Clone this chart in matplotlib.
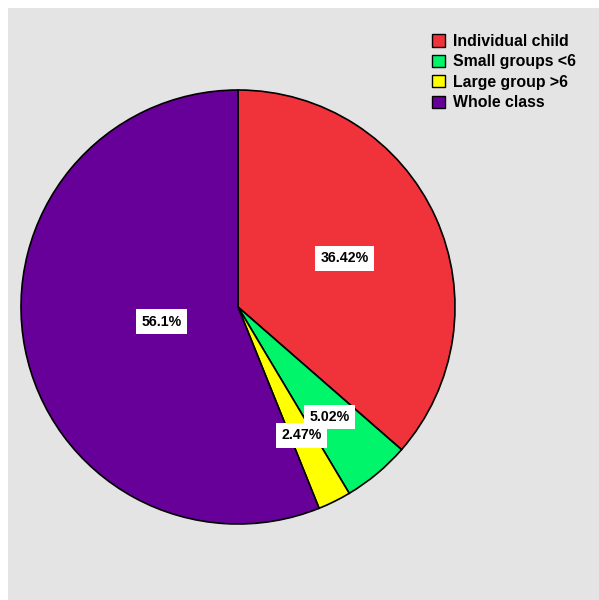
import numpy as np
import matplotlib
matplotlib.use('Agg')
import matplotlib.pyplot as plt
from matplotlib.patches import Patch

categories = ["Individual child", "Small groups <6", "Large group >6", "Whole class"]
values = [36.42, 5.02, 2.47, 56.1]
labels = ["36.42%", "5.02%", "2.47%", "56.1%"]
colors = ["#f0333a", "#00f56a", "#ffff00", "#660099"]
label_dist = [0.54, 0.66, 0.66, 0.36]

plt.rcParams['font.family'] = ['Liberation Sans', 'DejaVu Sans']

fig = plt.figure(figsize=(5.99, 6.0), dpi=100)
fig.patch.set_facecolor('white')
W, H = 599, 600
ax = fig.add_axes([8 / W, 0, 1 - 8 / W, 1 - 8 / H])
ax.set_facecolor('#e4e4e4')

cx, cy, r = 238, 307, 217
wedges, _ = ax.pie(values, colors=colors, startangle=90, counterclock=False,
                   radius=r, center=(0, 0), frame=True,
                   wedgeprops=dict(edgecolor='black', linewidth=1.2))
ax.set_xlim(8 - cx, W - cx)
ax.set_ylim(cy - H, cy - 8)
ax.set_aspect('equal')
ax.set_xticks([])
ax.set_yticks([])
for s in ax.spines.values():
    s.set_visible(False)

for w, lab, d in zip(wedges, labels, label_dist):
    ang = np.deg2rad((w.theta1 + w.theta2) / 2)
    ax.text(d * r * np.cos(ang), d * r * np.sin(ang), lab, ha='center', va='center',
            fontsize=10.2, fontweight='bold',
            bbox=dict(boxstyle='square,pad=0.38', facecolor='white', edgecolor='none'))

handles = [Patch(facecolor=c, edgecolor='black', label=n) for c, n in zip(colors, categories)]
leg = fig.legend(handles=handles, loc='upper left', bbox_to_anchor=(432 / W, 1 - 34 / H),
                 frameon=False, borderpad=0, borderaxespad=0,
                 prop={'weight': 'bold', 'size': 11.4},
                 handlelength=0.8, handleheight=0.8, handletextpad=0.5, labelspacing=0.34)

fig.savefig('out.png', dpi=100)
